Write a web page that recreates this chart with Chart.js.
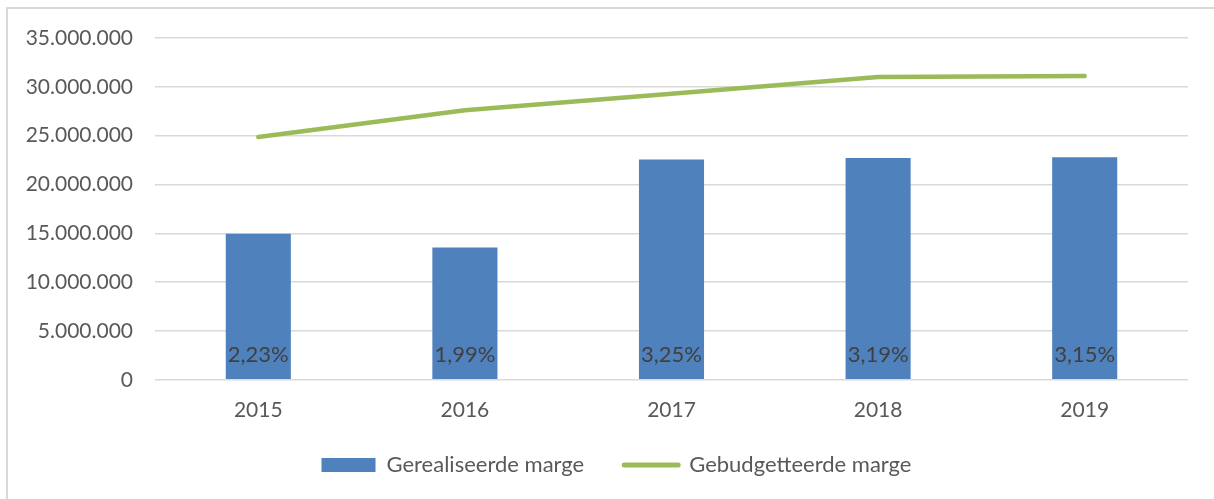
<!DOCTYPE html>
<html>
<head>
<meta charset="utf-8">
<script src="https://cdn.jsdelivr.net/npm/chart.js@4.4.1/dist/chart.umd.min.js"></script>
<style>
  html, body { margin: 0; padding: 0; background: #fff; overflow: hidden; }
  #wrap { position: relative; width: 1214px; height: 499px; }
  #frame { position: absolute; left: 6px; top: 7px; width: 1300px; height: 600px;
           border-top: 2px solid #d9d9d9; border-left: 2px solid #d9d9d9; pointer-events: none; }
</style>
</head>
<body>
<div id="wrap">
  <canvas id="myChart" width="1214" height="499"></canvas>
  <div id="frame"></div>
</div>
<script>
const years = ['2015', '2016', '2017', '2018', '2019'];
const gerealiseerd = [14950000, 13550000, 22550000, 22700000, 22800000];
const gebudgetteerd = [24870000, 27600000, 29300000, 31000000, 31100000];
const margePct = ['2,23%', '1,99%', '3,25%', '3,19%', '3,15%'];

const txt = '#595959';
const fontFam = 'Lato, "Open Sans", sans-serif';

function fmt(v) {
  return String(Math.round(v)).replace(/\B(?=(\d{3})+(?!\d))/g, '.');
}

// percentage labels inside the bars, near the bottom
const pctLabels = {
  id: 'pctLabels',
  afterDatasetsDraw(chart) {
    const meta = chart.getDatasetMeta(0);
    const c = chart.ctx;
    c.save();
    c.font = '22px ' + fontFam;
    c.fillStyle = '#404040';
    c.textAlign = 'center';
    c.textBaseline = 'middle';
    meta.data.forEach((bar, i) => {
      c.fillText(margePct[i], bar.x, bar.base - 24);
    });
    c.restore();
  }
};

// pin the legend row near the bottom edge
const legendPin = {
  id: 'legendPin',
  afterLayout(chart) {
    const lg = chart.legend;
    if (lg) {
      const h = lg.bottom - lg.top;
      lg.top = 414;
      lg.bottom = 414 + h;
      lg.left += 19;
      lg.right += 19;
    }
  }
};

const ctx = document.getElementById('myChart');

new Chart(ctx, {
  data: {
    labels: years,
    datasets: [{
      type: 'bar',
      label: 'Gerealiseerde marge',
      data: gerealiseerd,
      backgroundColor: '#4f81bd',
      barPercentage: 0.315,
      categoryPercentage: 1,
      order: 2
    }, {
      type: 'line',
      label: 'Gebudgetteerde marge',
      data: gebudgetteerd,
      borderColor: '#9bbb59',
      backgroundColor: '#9bbb59',
      borderWidth: 4.5,
      borderCapStyle: 'round',
      pointRadius: 0,
      tension: 0,
      order: 1
    }]
  },
  options: {
    responsive: false,
    animation: false,
    layout: { padding: { left: 7, right: 26, top: 38, bottom: -6 } },
    plugins: {
      tooltip: { enabled: false },
      legend: {
        position: 'bottom',
        labels: {
          color: txt,
          font: { family: fontFam, size: 22 },
          usePointStyle: true,
          pointStyleWidth: 54,
          boxHeight: 14,
          padding: 40,
          generateLabels(chart) {
            return chart.data.datasets.map((ds, i) => ({
              text: ds.label,
              fillStyle: ds.type === 'bar' ? '#4f81bd' : '#9bbb59',
              strokeStyle: ds.type === 'bar' ? '#4f81bd' : '#9bbb59',
              lineWidth: ds.type === 'bar' ? 0 : 5,
              lineCap: 'round',
              pointStyle: ds.type === 'bar' ? 'rect' : 'line',
              fontColor: txt,
              datasetIndex: i
            }));
          }
        }
      }
    },
    scales: {
      x: {
        grid: { display: false },
        border: { display: false },
        ticks: { color: txt, font: { family: fontFam, size: 21 }, padding: 10 }
      },
      y: {
        min: 0,
        max: 35000000,
        afterFit(s) { s.width = 148; },
        grid: { color: '#d9d9d9', lineWidth: 1.5, drawTicks: false },
        border: { display: false },
        ticks: {
          stepSize: 5000000,
          color: txt,
          font: { family: fontFam, size: 21 },
          padding: 22,
          callback: v => fmt(v)
        }
      }
    }
  },
  plugins: [pctLabels, legendPin]
});
</script>
</body>
</html>
